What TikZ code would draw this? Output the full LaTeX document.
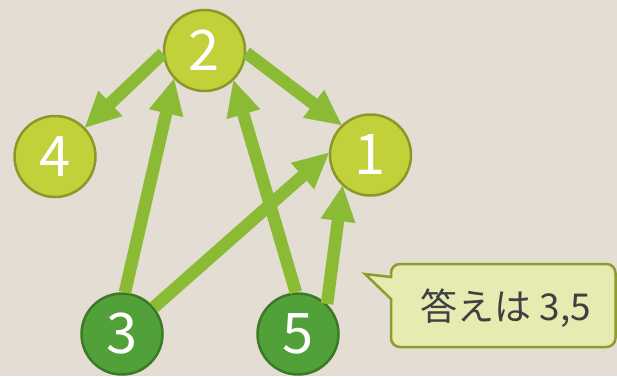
\documentclass[tikz,border=0pt]{standalone}
\usepackage{fontspec}
\setmainfont{Noto Sans CJK JP}
\usetikzlibrary{arrows.meta}
\definecolor{bgc}{HTML}{E3DDD3}
\definecolor{lightfill}{HTML}{C2D03A}
\definecolor{lightline}{HTML}{8A9828}
\definecolor{darkfill}{HTML}{52A03A}
\definecolor{darkline}{HTML}{3B7A24}
\definecolor{arrowc}{HTML}{8BBB35}
\definecolor{calloutfill}{HTML}{E5EBB1}
\definecolor{calloutline}{HTML}{8F9B2B}
\definecolor{textc}{HTML}{404040}
\tikzset{
  vert/.style={circle, minimum size=81pt, inner sep=0pt, line width=2.5pt,
    text=white, font=\fontsize{56}{56}\selectfont},
  lightv/.style={vert, fill=lightfill, draw=lightline},
  darkv/.style={vert, fill=darkfill, draw=darkline},
  edge/.style={draw=arrowc, line width=12.5pt,
    -{Triangle[length=35pt,width=35pt,line width=0.1pt]}},
  calloutshape/.style={fill=calloutfill, draw=calloutline, line width=2.5pt, line join=miter},
}
\begin{document}
\begin{tikzpicture}[x=1pt,y=1pt]
\fill[bgc] (0,0) rectangle (617,376);
\useasboundingbox (0,0) rectangle (617,376);
\node[lightv] (n2) at (204.5,325.5) {2};
\node[lightv] (n4) at (55,219.5) {4};
\node[lightv] (n1) at (370.5,221) {1};
\node[darkv] (n3) at (122,42) {3};
\node[darkv] (n5) at (298,42) {5};
\draw[edge] (n2.184) -- (n4.44.5);
\draw[edge] (n2.-3) -- (n1.134.5);
\draw[edge] (n3.86) -- (n2.223);
\draw[edge] (n5.93) -- (n2.314);
\draw[edge] (n3.40.5) -- (n1.177);
\draw[edge] (n5.46) -- (n1.228);
\draw[calloutshape] (365,102) -- (391,99) -- (391,103)
  arc[start angle=180,end angle=90,radius=9] -- (606.5,112)
  arc[start angle=90,end angle=0,radius=9] -- (615.5,38)
  arc[start angle=0,end angle=-90,radius=9] -- (400,29)
  arc[start angle=270,end angle=180,radius=9] -- (391,77) -- cycle;
\node[anchor=base west, inner sep=0pt, text=textc, font=\fontsize{37}{37}\selectfont] (ans) at (420,56) {答えは 3,5};
\end{tikzpicture}
\end{document}
